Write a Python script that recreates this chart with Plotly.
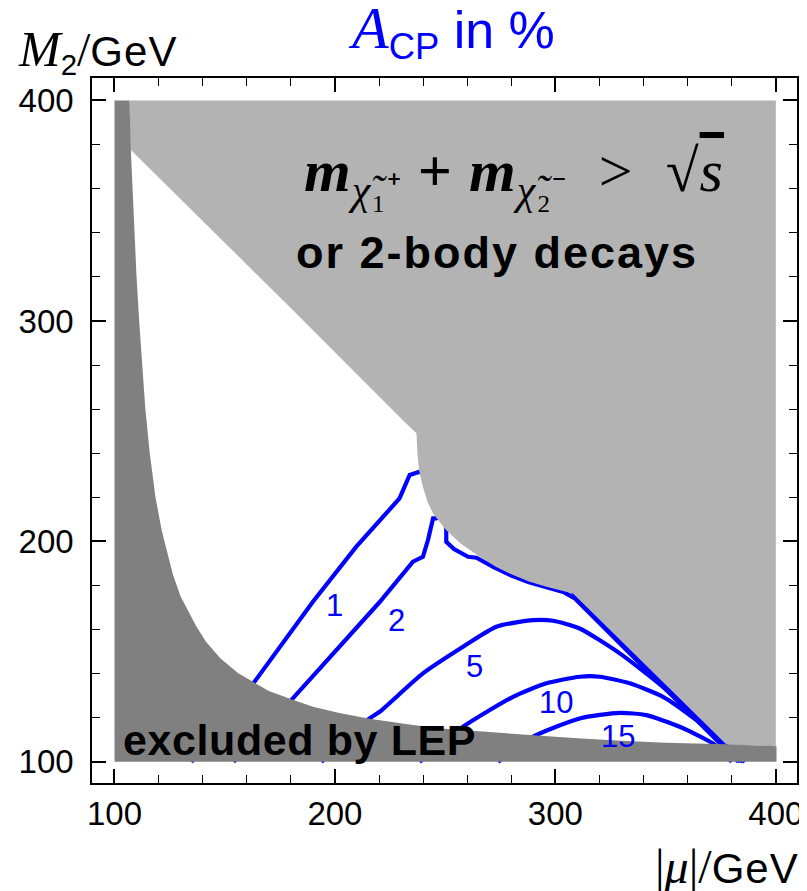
import plotly.graph_objects as go

# ---- data ----
# LEP exclusion boundary (|mu|, M2)
lep_x = [106.8, 107.4, 108.6, 110.0, 111.2, 112.5, 114.0, 116.0, 118.6, 121.4, 124.2, 126.5, 130.0,
         137.1, 141.5, 148.0, 156.0, 162.8, 170.0, 180.9, 190.0, 202.0, 215.7, 235.4, 250.0, 270.0,
         290.0, 310.0, 330.0, 350.0, 377.6, 400.3]
lep_y = [400.0, 378.0, 350.0, 320.0, 300.0, 280.0, 260.0, 240.0, 220.0, 205.0, 194.6, 185.0, 175.0,
         161.5, 154.5, 147.0, 140.3, 136.2, 132.1, 128.2, 125.0, 122.1, 119.5, 116.7, 115.0, 113.5,
         112.0, 110.7, 109.6, 108.7, 108.0, 107.1]

# kinematic / 2-body boundary (upper diagonal, notch, lower curve, lower diagonal)
kin_x = [107.1, 179.4, 230.8, 237.0, 237.4, 238.2, 239.9, 242.0, 244.5, 250.5, 257.0, 265.7, 273.0,
         280.8, 288.0, 295.9, 302.0, 308.0, 377.6]
kin_y = [377.9, 306.4, 255.0, 249.0, 240.0, 232.0, 224.8, 218.0, 212.7, 205.1, 199.0, 193.0, 188.5,
         184.7, 181.8, 179.4, 177.8, 176.4, 107.9]

# contour lines of A_CP (in %)
c1_x = [134.8, 163.5, 190.0, 209.7, 229.3, 233.9, 238.4, 255.0, 290.0, 310.0, 378.0, 386.0]
c1_y = [100.0, 136.3, 172.6, 197.6, 219.5, 230.1, 231.6, 225.0, 195.0, 175.0, 107.0, 100.0]

c2_x = [154.0, 180.9, 220.3, 235.4, 239.9, 242.2, 244.5, 246.0, 249.0, 250.5, 250.5, 254.0, 260.4,
        264.2, 272.0, 280.0, 288.0, 296.0, 304.0, 309.0, 376.0, 383.0]
c2_y = [100.0, 128.8, 172.5, 190.8, 193.0, 200.6, 210.4, 210.4, 212.0, 206.0, 199.8, 196.5, 193.0,
        192.6, 188.3, 184.5, 181.5, 179.0, 176.9, 174.0, 106.5, 100.0]

c5_x = [193.8, 215.7, 220.3, 239.9, 258.1, 273.2, 289.9, 299.0, 311.0, 329.2, 348.8, 371.5, 376.9, 385.0]
c5_y = [100.0, 119.7, 122.7, 140.1, 152.2, 161.3, 164.3, 164.0, 160.5, 149.2, 134.0, 112.9, 107.5, 100.0]

c10_x = [238.4, 258.1, 280.8, 295.9, 311.0, 320.1, 333.7, 348.8, 364.0, 376.1, 384.0]
c10_y = [100.0, 115.9, 129.5, 135.6, 138.6, 138.6, 135.6, 129.5, 118.9, 108.6, 100.0]

c15_x = [274.0, 289.9, 311.0, 329.2, 341.3, 356.4, 371.5, 380.0]
c15_y = [100.0, 111.4, 119.7, 122.2, 121.2, 115.9, 108.3, 100.0]

label_text = ["1", "2", "5", "10", "15"]
label_x = [199.8, 227.9, 263.4, 300.5, 328.4]
label_y = [171.1, 164.3, 143.1, 126.8, 111.4]

x_ticks = [100, 200, 300, 400]
y_ticks = [100, 200, 300, 400]

BLUE = "#0000ff"
DARK = "#808080"
LIGHT = "#b3b3b3"
SANS = "Liberation Sans, Arial, sans-serif"
SERIF = "Liberation Serif, Times New Roman, serif"

fig = go.Figure()

for cx, cy, shape in [(c1_x, c1_y, "linear"), (c2_x, c2_y, "linear"), (c5_x, c5_y, "spline"),
                      (c10_x, c10_y, "spline"), (c15_x, c15_y, "spline")]:
    fig.add_trace(go.Scatter(x=cx, y=cy, mode="lines",
                             line=dict(color=BLUE, width=4.2, shape=shape, smoothing=0.6),
                             hoverinfo="skip", showlegend=False))

# light grey region: above the kinematic boundary
light_x = [106.8, 400.0, 400.0] + kin_x[::-1]
light_y = [400.0, 400.0, 107.1] + kin_y[::-1]
fig.add_trace(go.Scatter(x=light_x, y=light_y, mode="lines", fill="toself",
                         fillcolor=LIGHT, line=dict(width=0, color=LIGHT),
                         hoverinfo="skip", showlegend=False))

# dark grey region: excluded by LEP
dark_x = [100.0] + lep_x + [400.3, 100.0]
dark_y = [400.0] + lep_y + [100.0, 100.0]
fig.add_trace(go.Scatter(x=dark_x, y=dark_y, mode="lines", fill="toself",
                         fillcolor=DARK, line=dict(width=0, color=DARK),
                         hoverinfo="skip", showlegend=False))

# contour labels
for t, lx, ly in zip(label_text, label_x, label_y):
    fig.add_annotation(x=lx, y=ly, text=t, showarrow=False,
                       font=dict(family=SANS, size=31, color=BLUE),
                       xanchor="center", yanchor="middle")

# region texts
fig.add_annotation(x=102.8, y=109.8,
                   text="<span style='letter-spacing:0.6px'><b>excluded by LEP</b></span>",
                   showarrow=False, font=dict(family=SANS, size=43, color="black"),
                   xanchor="left", yanchor="middle")
fig.add_annotation(x=273.5, y=331.0,
                   text="<span style='letter-spacing:2px'><b>or 2-body decays</b></span>",
                   showarrow=False, font=dict(family=SANS, size=45, color="black"),
                   xanchor="center", yanchor="middle")
math = ("<span style='letter-spacing:1px'>"
        "<b><i>m</i></b><sub><i>χ̃</i>₁⁺</sub> <b>+</b> "
        "<b><i>m</i></b><sub><i>χ̃</i>₂⁻</sub>\u00a0 > \u00a0√"
        "<span style='text-decoration:overline'><i>s</i></span></span>")
fig.add_annotation(x=281.0, y=366.0, text=math, showarrow=False,
                   font=dict(family=SERIF, size=60, color="black"),
                   xanchor="center", yanchor="middle")

# title and axis labels
fig.add_annotation(xref="paper", yref="paper", x=0.51, y=1.066,
                   text=("<span style='font-family:Liberation Serif;font-size:60px'><i>A</i></span>"
                         "<sub>CP</sub> in %"),
                   showarrow=False, font=dict(family=SANS, size=52, color=BLUE),
                   xanchor="center", yanchor="middle")
fig.add_annotation(xref="paper", yref="paper", x=-0.108, y=1.039,
                   text=("<span style='font-family:Liberation Serif;font-size:50px'><i>M</i></span>"
                         "<sub>2</sub><span style='font-family:Liberation Serif;font-size:48px'>/</span>"
                         "<span style='letter-spacing:1px'>GeV</span>"),
                   showarrow=False, font=dict(family=SANS, size=42, color="black"),
                   xanchor="left", yanchor="middle")
fig.add_annotation(xref="paper", yref="paper", x=1.005, y=-0.118,
                   text=("<span style='font-family:Liberation Serif;font-size:48px'>|<i>μ</i>|/</span>"
                         "<span style='letter-spacing:1px'>GeV</span>"),
                   showarrow=False, font=dict(family=SANS, size=42, color="black"),
                   xanchor="right", yanchor="middle")

axis_common = dict(
    showgrid=False, zeroline=False, showline=True, linecolor="black", linewidth=1.5,
    mirror="ticks", ticks="inside", ticklen=14, tickwidth=1.5, tickcolor="black",
    tickfont=dict(family=SANS, size=33, color="black"),
    tickmode="array", automargin=False,
    minor=dict(ticks="inside", ticklen=8, tickwidth=1.2, tickcolor="black",
               tick0=100, dtick=20, showgrid=False),
)
fig.update_xaxes(range=[89.8, 409.6], tickvals=x_ticks, ticktext=[str(v) for v in x_ticks],
                 ticklabelstandoff=1, **axis_common)
fig.update_yaxes(range=[90.4, 410.2], tickvals=y_ticks, ticktext=[str(v) for v in y_ticks],
                 ticklabelstandoff=10, **axis_common)

# the page adds an 8px body margin, so the figure is 8px smaller and margins shifted
fig.update_layout(width=799, height=883, margin=dict(l=84, r=10, t=70, b=108, autoexpand=False),
                  plot_bgcolor="white", paper_bgcolor="white", showlegend=False)

fig.write_html("out.html")
